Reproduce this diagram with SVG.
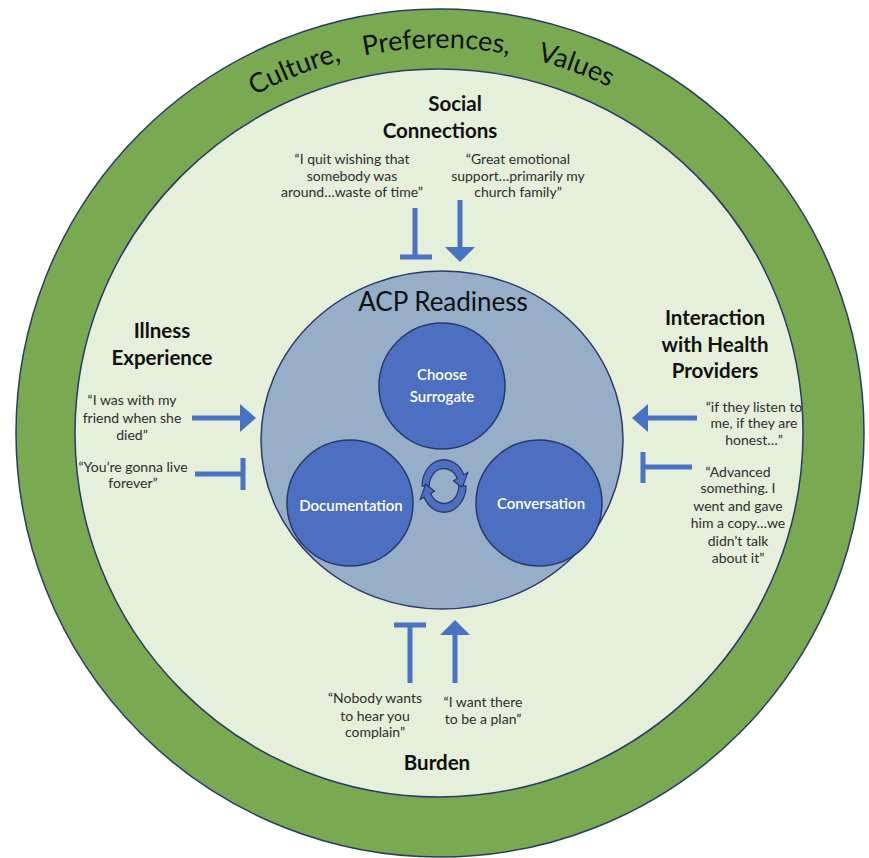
<svg xmlns="http://www.w3.org/2000/svg" width="869" height="858" viewBox="0 0 869 858">
  <style>
    .ring { fill: #79aa51; stroke: #2b3a66; stroke-width: 1.5; }
    .field { fill: #e5efda; stroke: #2b3a66; stroke-width: 1.5; }
    .core { fill: #97aec9; stroke: #2b3a66; stroke-width: 1.5; }
    .step { fill: #4d6fc1; stroke: #263a6a; stroke-width: 1.5; }
    .step-label { font-family: Lato, "Open Sans", sans-serif; font-size: 15px; font-weight: 600; fill: #ffffff; text-anchor: middle; }
    .ring-text { font-family: Lato, "Open Sans", sans-serif; font-size: 27px; fill: #111111; }
    .title { font-family: Lato, "Open Sans", sans-serif; font-size: 26px; fill: #111111; text-anchor: middle; }
    .heading { font-family: Lato, "Open Sans", sans-serif; font-size: 20.5px; font-weight: bold; fill: #111111; text-anchor: middle; }
    .quote { font-family: Lato, "Open Sans", sans-serif; font-size: 14px; fill: #2e2e2e; text-anchor: middle; }
    .link { stroke: #4a72c4; stroke-width: 5; fill: none; }
    .head { fill: #4a72c4; }
    .cycle { fill: #4d6fc1; stroke: #263a6a; stroke-width: 1.1; }
  </style>
  <defs>
    <path id="ringArc" d="M55,433 A385,385 0 0 1 825,433"/>
  </defs>

  <!-- outer context ring -->
  <g id="context">
    <circle class="ring" cx="440" cy="433" r="424"/>
    <circle class="field" cx="439" cy="433" r="364"/>
    <text class="ring-text" text-anchor="middle"><textPath href="#ringArc" startOffset="458">Culture,</textPath></text>
    <text class="ring-text" text-anchor="middle"><textPath href="#ringArc" startOffset="601">Preferences,</textPath></text>
    <text class="ring-text" text-anchor="middle"><textPath href="#ringArc" startOffset="741">Values</textPath></text>
  </g>

  <!-- central readiness circle -->
  <g id="acp-readiness">
    <ellipse class="core" cx="442" cy="440" rx="181" ry="169"/>
    <text class="title" x="443" y="311">ACP Readiness</text>
  </g>

  <g id="choose-surrogate">
    <circle class="step" cx="442" cy="386" r="63"/>
    <text class="step-label" x="442" y="380">Choose</text>
    <text class="step-label" x="442" y="402">Surrogate</text>
  </g>

  <g id="documentation">
    <circle class="step" cx="350" cy="503" r="63"/>
    <text class="step-label" x="351" y="511">Documentation</text>
  </g>

  <g id="conversation">
    <circle class="step" cx="539" cy="503" r="63"/>
    <text class="step-label" x="541" y="509">Conversation</text>
  </g>

  <!-- circular arrows between the three steps -->
  <g id="cycle" transform="translate(444,486) scale(1.05,1.25) translate(-444,-486)">
    <path class="cycle" d="M423,486 A21,21 0 0 1 463.0,477.1 L466.6,475.4 L461.4,487.5 L453.1,481.8 L456.7,480.1 A14,14 0 0 0 430,486 Z"/>
    <path class="cycle" d="M465,486 A21,21 0 0 1 425.0,494.9 L421.4,496.6 L426.6,484.5 L434.9,490.2 L431.3,491.9 A14,14 0 0 0 458,486 Z"/>
  </g>

  <!-- factor nodes -->
  <g id="social-connections">
    <text class="heading" x="455" y="111">Social</text>
    <text class="heading" x="440" y="138">Connections</text>
    <text class="quote" x="352" y="164">“I quit wishing that</text>
    <text class="quote" x="352" y="181">somebody was</text>
    <text class="quote" x="352" y="197">around…waste of time”</text>
    <text class="quote" x="518" y="164">“Great emotional</text>
    <text class="quote" x="518" y="181">support…primarily my</text>
    <text class="quote" x="518" y="197">church family”</text>
  </g>

  <g id="illness-experience">
    <text class="heading" x="162" y="338">Illness</text>
    <text class="heading" x="162" y="365">Experience</text>
    <text class="quote" x="132" y="405">“I was with my</text>
    <text class="quote" x="132" y="423">friend when she</text>
    <text class="quote" x="132" y="440">died”</text>
    <text class="quote" x="133" y="472">“You’re gonna live</text>
    <text class="quote" x="133" y="488">forever”</text>
  </g>

  <g id="health-providers">
    <text class="heading" x="715" y="325">Interaction</text>
    <text class="heading" x="715" y="352">with Health</text>
    <text class="heading" x="715" y="378">Providers</text>
    <text class="quote" x="754" y="412">“if they listen to</text>
    <text class="quote" x="754" y="428">me, if they are</text>
    <text class="quote" x="754" y="445">honest…”</text>
    <text class="quote" x="738" y="477">“Advanced</text>
    <text class="quote" x="738" y="493">something. I</text>
    <text class="quote" x="738" y="511">went and gave</text>
    <text class="quote" x="738" y="528">him a copy…we</text>
    <text class="quote" x="738" y="546">didn’t talk</text>
    <text class="quote" x="738" y="563">about it”</text>
  </g>

  <g id="burden">
    <text class="quote" x="375" y="703">“Nobody wants</text>
    <text class="quote" x="375" y="721">to hear you</text>
    <text class="quote" x="375" y="737">complain”</text>
    <text class="quote" x="483" y="707">“I want there</text>
    <text class="quote" x="483" y="724">to be a plan”</text>
    <text class="heading" x="437" y="770">Burden</text>
  </g>

  <!-- promoting arrows and inhibiting bars -->
  <g id="connectors">
    <!-- social connections -->
    <path class="link" d="M415,208 V257 M400,257 H432"/>
    <path class="link" d="M460,200 V250"/>
    <polygon class="head" points="445,247 475,247 460,262"/>
    <!-- illness experience -->
    <path class="link" d="M192,418 H243"/>
    <polygon class="head" points="240,404 240,432 256,418"/>
    <path class="link" d="M195,474 H243 M243,458 V490"/>
    <!-- health providers -->
    <path class="link" d="M697,418 H645"/>
    <polygon class="head" points="648,404 648,432 632,418"/>
    <path class="link" d="M692,467 H643 M643,452 V483"/>
    <!-- burden -->
    <path class="link" d="M410,683 V625 M394,625 H426"/>
    <path class="link" d="M455,683 V632"/>
    <polygon class="head" points="440,635 470,635 455,620"/>
  </g>
</svg>
